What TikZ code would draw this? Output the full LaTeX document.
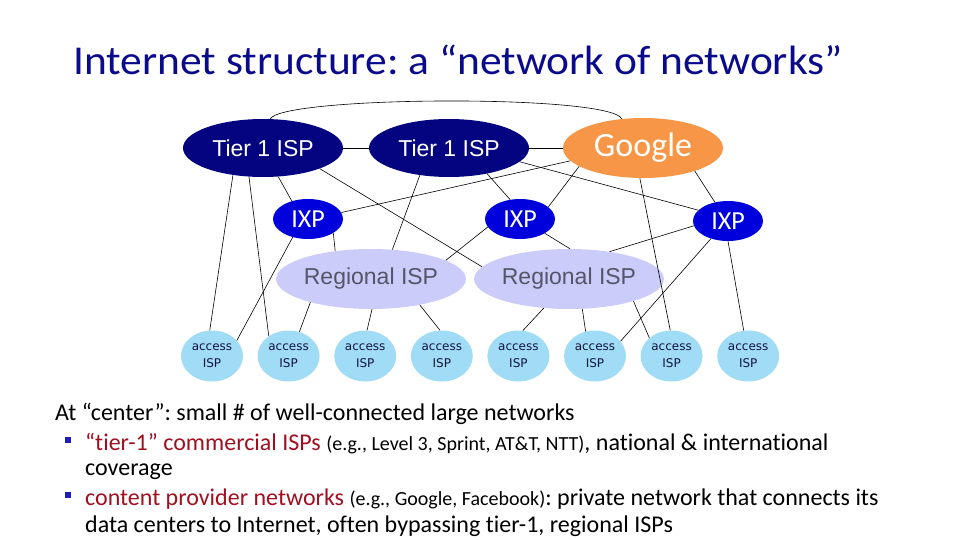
\documentclass[tikz,border=0pt]{standalone}
\usepackage{fontspec}
\setmainfont{Carlito}[Ligatures={TeX,NoCommon}]
\newfontfamily\arialfont{Liberation Sans}
\newfontfamily\verdanafont{DejaVu Sans}
\usetikzlibrary{shapes.geometric}
\frenchspacing

\definecolor{titleblue}{RGB}{10,10,140}
\definecolor{tierblue}{RGB}{4,4,128}
\definecolor{ixpblue}{RGB}{0,0,220}
\definecolor{googleorange}{RGB}{247,150,70}
\definecolor{regionalfill}{RGB}{204,204,250}
\definecolor{regionaltext}{RGB}{85,85,105}
\definecolor{accessfill}{RGB}{160,220,245}
\definecolor{accesstext}{RGB}{20,20,60}
\definecolor{darkred}{RGB}{160,16,32}
\definecolor{bulletblue}{RGB}{30,30,190}

\begin{document}
\begin{tikzpicture}[
		x=1pt, y=-1pt,
		net link/.style={line width=0.6pt},
		isp cloud/.style={
			ellipse, inner sep=0pt,
		},
		tier isp/.style={
			isp cloud, fill=tierblue, text=white,
			minimum width=160pt, minimum height=58pt,
			font=\arialfont\fontsize{23}{23}\selectfont
		},
		content isp/.style={
			isp cloud, fill=googleorange, text=white,
			minimum width=160pt, minimum height=60pt,
			font=\fontsize{34}{34}\selectfont
		},
		ixp/.style={
			isp cloud, fill=ixpblue, text=white,
			minimum width=70pt, minimum height=40pt,
			font=\fontsize{26}{26}\selectfont
		},
		regional isp/.style={
			isp cloud, fill=regionalfill, text=regionaltext,
			minimum width=158pt, minimum height=60pt,
			font=\arialfont\fontsize{23}{23}\selectfont
		},
		access isp/.style={
			isp cloud, fill=accessfill, text=accesstext, align=center,
			minimum width=62pt, minimum height=51pt,
			font=\verdanafont\fontsize{12}{17}\selectfont
		},
		body line/.style={
			anchor=base west, inner sep=0pt,
			font=\fontsize{24}{28}\selectfont
		},
		bullet mark/.style={
			rectangle, fill=bulletblue, inner sep=0pt, minimum size=6pt
		},
	]
	\useasboundingbox (0,0) rectangle (960,540);

	\node[anchor=base west, inner sep=0pt, text=titleblue, font=\fontsize{41}{41}\selectfont]
		(title) at (73,75) {\scalebox{1.06}[1]{Internet structure: a “network of networks”}};

	% backbone
	\node[tier isp] (t1a) at (263,148) {Tier 1 ISP};
	\node[tier isp] (t1b) at (449,148) {Tier 1 ISP};
	\node[content isp] (goo) at (643,148) {Google};

	\node[ixp] (ixa) at (308,219) {IXP};
	\node[ixp] (ixb) at (520,219) {IXP};
	\node[ixp] (ixc) at (728,221) {IXP};

	\node[regional isp] (rga) at (371,279) {Regional ISP};
	\node[regional isp] (rgb) at (569,279) {Regional ISP};

	\foreach \i in {1,...,8}
		\node[access isp] (acc\i) at ({212+76.6*(\i-1)},356) {access\\ISP};

	% links, drawn between border points
	\draw[net link] (t1a.0) -- (t1b.180);
	\draw[net link] (t1b.0) -- (goo.180);
	\draw[net link] (t1a.76) .. controls (282,96) and (610,94) .. (goo.126);
	\foreach \from/\to in {
			t1a.222/acc1.95, t1a.244/acc2.135, t1a.298/ixa.132, t1a.340/rgb.172,
			t1b.326/ixb.117, t1b.349/ixc.160, t1b.223/rga.54,
			goo.190/ixa.11, goo.196/ixb.23, goo.336/ixc.125, goo.264/acc7.93,
			ixa.331/rga.142, ixa.230/acc1.32,
			ixb.194/rga.14, ixb.330/rgb.88,
			ixc.188/rgb.34, ixc.226/acc6.30, ixc.270/acc8.100,
			rga.201/acc2.66, rga.272/acc3.86, rga.332/acc4.94,
			rgb.229/acc5.80, rgb.294/acc6.111, rgb.341/acc7.141%
		}
		\draw[net link] (\from) -- (\to);

	% text below the picture
	\node[body line] (l1) at (55,420) {At “center”: small \# of well-connected large networks};
	\node[bullet mark] (b1) at (68,440) {};
	\node[body line] (l2) at (85,450) {\textcolor{darkred}{“tier-1” commercial ISPs}
		{\fontsize{20}{20}\selectfont (e.g., Level 3, Sprint, AT\&T, NTT)}, national \& international};
	\node[body line] (l3) at (85,475) {coverage};
	\node[bullet mark] (b2) at (68,495) {};
	\node[body line] (l4) at (85,505) {\textcolor{darkred}{content provider networks}
		{\fontsize{20}{20}\selectfont (e.g., Google, Facebook)}: private network that connects its};
	\node[body line] (l5) at (85,532) {data centers to Internet, often bypassing tier-1, regional ISPs};
\end{tikzpicture}
\end{document}
